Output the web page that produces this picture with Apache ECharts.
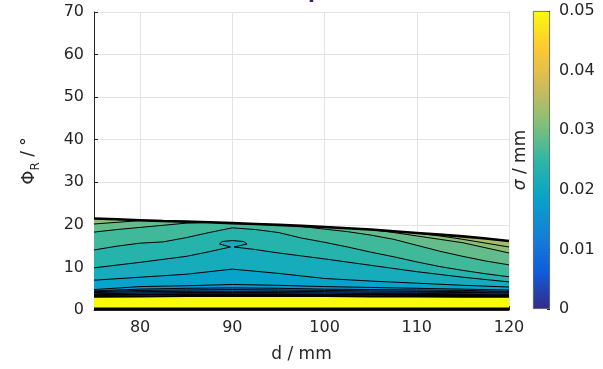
<!DOCTYPE html>
<html>
<head>
<meta charset="utf-8">
<script src="https://cdn.jsdelivr.net/npm/echarts@6/dist/echarts.min.js"></script>
<style>
    html, body { margin: 0; padding: 0; background: #fff; }
    #chart { width: 603px; height: 369px; }
</style>
</head>
<body>
<div id="chart"></div>
<script>
    // d positions (mm) used by the upper contours
    const dFine = [75, 77.5, 80, 82.5, 85, 87.5, 90, 92.5, 95, 97.5, 100, 102.5, 105, 107.5, 110, 112.5, 115, 117.5, 120];
    // d positions (mm) used by the lower contours
    const dCoarse = [75, 80, 85, 90, 95, 100, 105, 110, 115, 120];

    // upper edge of the measured region, Phi_R in degrees
    const boundary = [21.5, 21.3, 21.1, 20.9, 20.75, 20.6, 20.4, 20.2, 20.0, 19.75, 19.5, 19.2, 18.9, 18.5, 18.1, 17.7, 17.3, 16.8, 16.2];

    // contour lines (Phi_R at each d), named by sigma level
    const lv0325 = [21.5, 21.3, 21.1, 20.9, 20.75, 20.6, 20.4, 20.2, 20.0, 19.75, 19.5, 19.2, 18.9, 18.5, 18.1, 17.4, 16.6, 15.7, 14.8];
    const lv0300 = [20.2, 20.6, 21.0, 20.9, 20.75, 20.6, 20.4, 20.2, 20.0, 19.75, 19.5, 19.2, 18.9, 18.2, 17.4, 16.6, 15.8, 14.6, 13.4];
    const lv0275 = [18.3, 18.9, 19.4, 19.9, 20.4, 20.6, 20.4, 20.2, 20.0, 19.6, 19.0, 18.4, 17.6, 16.6, 15.2, 13.8, 12.6, 11.5, 10.6];
    const lv0250 = [14.1, 15.0, 15.7, 16.0, 17.0, 18.2, 19.3, 18.9, 18.2, 16.9, 15.9, 14.8, 13.6, 12.5, 11.3, 10.2, 9.3, 8.5, 7.8];

    // the 0.0225 contour has a small loop near d = 90
    const bulbD = [75, 80, 85, 87.5, 89.8, 88.6, 88.9, 90.0, 91.2, 91.6, 90.2, 92.5, 95, 97.5, 100, 105, 110, 115, 120];
    const bulbV = [9.9, 11.2, 12.6, 13.7, 14.8, 15.5, 16.1, 16.3, 16.1, 15.5, 14.8, 14.2, 13.4, 12.7, 12.0, 10.5, 9.0, 7.7, 6.6];

    const lv0200 = [7.0, 7.7, 8.4, 9.6, 8.6, 7.4, 6.8, 6.3, 5.8, 5.4];
    const lv0175 = [4.8, 5.5, 5.7, 6.0, 5.8, 5.5, 5.3, 5.1, 4.9, 4.7];
    const lv0150 = [4.5, 4.9, 5.1, 5.2, 5.1, 4.9, 4.8, 4.7, 4.6, 4.4];
    const lv0125 = [4.3, 4.6, 4.7, 4.8, 4.7, 4.6, 4.5, 4.4, 4.3, 4.2];
    const lv0100 = [4.1, 4.3, 4.4, 4.4, 4.4, 4.3, 4.2, 4.2, 4.1, 4.0];
    const lv0075 = [3.8, 4.0, 4.1, 4.1, 4.1, 4.0, 3.9, 3.9, 3.8, 3.7];
    const edgeA = [3.5, 3.6, 3.7, 3.7, 3.7, 3.6, 3.6, 3.5, 3.5, 3.4];
    const edgeB = [3.1, 3.2, 3.3, 3.3, 3.3, 3.3, 3.2, 3.2, 3.1, 3.1];
    const bottomEdge = [0.3, 0.3, 0.3, 0.3, 0.3, 0.3, 0.3, 0.3, 0.3, 0.3];

    // sigma (mm) of the band lying under each line, top to bottom
    const bandBelow = [0.03375, 0.03125, 0.02875, 0.02625, 0.02375, 0.02125, 0.01875, 0.01625, 0.01375, 0.01125, 0.00875, 0.00625, 0.03, 0.05];

    // colour bar
    const sigmaMax = 0.05;
    const sigmaTicks = [0, 0.01, 0.02, 0.03, 0.04, 0.05];
    const xTicks = [80, 90, 100, 110, 120];

    const parula = ['#352a87', '#0f5cdd', '#1481d6', '#06a4ca', '#2eb7a4', '#87bf77', '#d1bb59', '#fec832', '#f9fb0e'];

    function hexToRgb(h) {
        return [parseInt(h.slice(1, 3), 16), parseInt(h.slice(3, 5), 16), parseInt(h.slice(5, 7), 16)];
    }

    function parulaAt(sigma) {
        let t = Math.max(0, Math.min(1, sigma / sigmaMax)) * (parula.length - 1);
        const i = Math.min(parula.length - 2, Math.floor(t));
        const f = t - i;
        const a = hexToRgb(parula[i]), b = hexToRgb(parula[i + 1]);
        const c = a.map((x, k) => Math.round(x + (b[k] - x) * f));
        return 'rgb(' + c.join(',') + ')';
    }

    function zip(xs, ys) {
        return xs.map((x, i) => [x, ys[i]]);
    }

    // top to bottom; each one is filled down to 0 with the colour of the band under it
    const contours = [
        zip(dFine, boundary),
        zip(dFine, lv0325),
        zip(dFine, lv0300),
        zip(dFine, lv0275),
        zip(dFine, lv0250),
        zip(bulbD, bulbV),
        zip(dCoarse, lv0200),
        zip(dCoarse, lv0175),
        zip(dCoarse, lv0150),
        zip(dCoarse, lv0125),
        zip(dCoarse, lv0100),
        zip(dCoarse, lv0075),
        zip(dCoarse, edgeA),
        zip(dCoarse, edgeB)
    ];

    const TextColor = '#262626';
    const font = 'DejaVu Sans';

    const areaSeries = contours.map((data, idx) => ({
        type: 'line',
        data,
        symbol: 'none',
        silent: true,
        z: 1,
        lineStyle: {width: 0},
        areaStyle: {color: parulaAt(bandBelow[idx]), opacity: 1}
    }));

    const lineSeries = contours.slice(1).map((data, idx) => ({
        type: 'line',
        data,
        symbol: 'none',
        silent: true,
        z: 2,
        lineStyle: {color: '#000', width: idx >= 11 ? 2 : 1}
    }));

    const edgeSeries = [zip(dFine, boundary), zip(dCoarse, bottomEdge)].map(data => ({
        type: 'line',
        data,
        symbol: 'none',
        silent: true,
        z: 3,
        lineStyle: {color: '#000', width: 2.6}
    }));

    const colorBar = {
        type: 'bar',
        xAxisIndex: 1,
        yAxisIndex: 1,
        data: [sigmaMax],
        barWidth: '100%',
        silent: true,
        itemStyle: {
            color: new echarts.graphic.LinearGradient(0, 1, 0, 0,
                parula.map((c, i) => ({offset: i / (parula.length - 1), color: c}))),
            borderColor: '#555',
            borderWidth: 0.8
        }
    };

    const chart = echarts.init(document.getElementById('chart'), null, {renderer: 'canvas'});
    chart.setOption({
        animation: false,
        backgroundColor: '#fff',
        title: {
            text: 'p',
            left: 303,
            top: -22,
            textStyle: {color: '#3b1f66', fontSize: 20, fontWeight: 'bold', fontFamily: font}
        },
        grid: [
            {left: 94, right: 94, top: 12, bottom: 59},
            {left: 533, width: 17, top: 11, height: 298}
        ],
        xAxis: [
            {
                type: 'value',
                gridIndex: 0,
                min: 75,
                max: 120,
                name: 'd / mm',
                nameLocation: 'middle',
                nameGap: 36,
                nameTextStyle: {color: TextColor, fontSize: 17, fontFamily: font},
                axisLine: {show: true, onZero: false, lineStyle: {color: TextColor, width: 1}},
                axisTick: {show: true, inside: true, length: 4, customValues: xTicks, lineStyle: {color: TextColor}},
                axisLabel: {customValues: xTicks, color: TextColor, fontSize: 16, fontFamily: font, margin: 10},
                splitLine: {show: true, lineStyle: {color: '#e3e3e3', width: 1}}
            },
            {
                type: 'category',
                gridIndex: 1,
                data: ['σ'],
                show: false
            }
        ],
        yAxis: [
            {
                type: 'value',
                gridIndex: 0,
                min: 0,
                max: 70,
                interval: 10,
                name: '{a|Φ}{b|R} / °',
                nameLocation: 'middle',
                nameRotate: 90,
                nameGap: 52,
                nameTextStyle: {
                    color: TextColor, fontSize: 17, fontFamily: font,
                    rich: {
                        a: {fontSize: 18, fontFamily: font, color: TextColor, lineHeight: 26, verticalAlign: 'middle'},
                        b: {fontSize: 12, fontFamily: font, color: TextColor, lineHeight: 26, verticalAlign: 'bottom'}
                    }
                },
                axisLine: {show: true, lineStyle: {color: TextColor, width: 1}},
                axisTick: {show: true, inside: true, length: 4, lineStyle: {color: TextColor}},
                axisLabel: {color: TextColor, fontSize: 16, fontFamily: font, margin: 10},
                splitLine: {show: true, lineStyle: {color: '#e3e3e3', width: 1}}
            },
            {
                type: 'value',
                gridIndex: 1,
                position: 'right',
                min: 0,
                max: sigmaMax,
                interval: 0.01,
                axisLine: {show: false},
                axisTick: {show: true, inside: true, length: 3, lineStyle: {color: TextColor}},
                axisLabel: {
                    color: TextColor, fontSize: 16, fontFamily: font, margin: 9,
                    formatter: v => sigmaTicks.indexOf(Math.round(v * 100) / 100) >= 0 ? String(Math.round(v * 100) / 100) : ''
                },
                splitLine: {show: false}
            },
            {
                type: 'value',
                gridIndex: 1,
                position: 'left',
                min: 0,
                max: sigmaMax,
                name: '{s|σ} / mm',
                nameLocation: 'middle',
                nameRotate: 90,
                nameGap: 4,
                nameTextStyle: {
                    color: TextColor, fontSize: 17, fontFamily: font,
                    rich: {s: {fontStyle: 'italic', fontSize: 17, fontFamily: font, color: TextColor}}
                },
                axisLine: {show: false},
                axisTick: {show: false},
                axisLabel: {show: false},
                splitLine: {show: false}
            }
        ],
        series: [...areaSeries, ...lineSeries, ...edgeSeries, colorBar]
    });
</script>
</body>
</html>
